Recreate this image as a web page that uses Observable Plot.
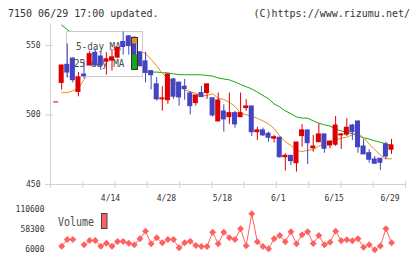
<!DOCTYPE html>
<html>
<head>
<meta charset="utf-8">
<script src="https://cdn.jsdelivr.net/npm/d3@7"></script>
<script src="https://cdn.jsdelivr.net/npm/@observablehq/plot@0.6"></script>
<style>
  html, body { margin: 0; padding: 0; background: #fff; }
  #chart { position: relative; width: 420px; height: 259px; overflow: hidden; }
  #chart svg { position: absolute; left: 0; top: 0; background: transparent; }
</style>
</head>
<body>
<div id="chart"></div>
<script>
// Daily prices for code 7150, 2020-03-31 .. 2020-06-29
const dates = ["3/31",
  "4/1","4/2","4/3","4/6","4/7","4/8","4/9","4/10","4/13","4/14","4/15","4/16","4/17","4/20","4/21","4/22","4/23","4/24","4/27","4/28","4/30",
  "5/1","5/7","5/8","5/11","5/12","5/13","5/14","5/15","5/18","5/19","5/20","5/21","5/22","5/25","5/26","5/27","5/28","5/29",
  "6/1","6/2","6/3","6/4","6/5","6/8","6/9","6/10","6/11","6/12","6/15","6/16","6/17","6/18","6/19","6/22","6/23","6/24","6/25","6/26","6/29"];

const open = [509, 523, 536, 540.5, 516.5, 529, 535.5, 544.7, 542, 538.3, 539, 541.2, 552.4, 556.5, 555.5, 545,
  538.5, 531.5, 522, 511.2, 510.6, 525.5, 523.2, 520.3, 515.5, 508.5, 515.7, 515.7, 512, 495.3, 502.5, 498.4,
  501.3, 498.4, 504.9, 506.1, 487.6, 488.9, 486.5, 482.9, 483.6, 469.6, 470.6, 465.3, 484.8, 488.9, 476.1, 480.4,
  486, 478, 478.6, 485.3, 485.8, 492.4, 495.3, 477.3, 472.5, 468, 468.5, 478.8, 475];
const high = [509, 536, 551, 541, 530.5, 539, 545.5, 547.3, 545.5, 544.7, 547, 548.5, 559.6, 557, 556, 545.5,
  545, 532, 526.8, 520.3, 529.4, 526.3, 523.5, 525.5, 516.7, 514, 520.5, 522, 512, 515.7, 507.3, 515.7,
  502.5, 515.7, 511, 506.1, 491.2, 490.5, 487.6, 485.3, 484, 472.1, 470.6, 480.2, 493, 489, 485.3, 493.7,
  486, 481, 498.9, 486.5, 497.3, 493.2, 495.5, 482.2, 475, 470.1, 468.5, 480.4, 482.4];
const low = [509, 518, 526.5, 523, 513, 526, 535.5, 535, 532, 528.6, 531.5, 540.5, 543, 543, 532, 534.5,
  523, 518, 510, 502.7, 507.6, 511.2, 506.3, 510.6, 500, 506.3, 512.8, 511.2, 498.4, 495.3, 487.6, 493.2,
  490.5, 498, 502.5, 484.5, 481.7, 484.5, 480.4, 479.7, 469, 459.6, 463.7, 458.9, 476.8, 464.4, 473.2, 480.4,
  472.5, 475.7, 477.3, 475.2, 484.5, 481.7, 472.5, 471.6, 465.3, 464.9, 460.1, 467.8, 471.6];
const close = [509, 535.5, 530.5, 525, 527, 528, 543.7, 535.6, 535.4, 540, 541.4, 548.3, 548.8, 549.5, 532.5, 535,
  530.2, 528.6, 511.2, 511.9, 529.1, 513.1, 512.6, 518.6, 506.3, 514, 512.8, 522, 499.6, 510.4, 496.8, 501.3,
  493.2, 501.3, 506.1, 487.6, 488.9, 485.3, 483.6, 484, 469.6, 470.6, 466.8, 480.2, 488.9, 479.7, 477.3, 486,
  475.7, 480.9, 492.4, 486, 490.8, 487.6, 476.8, 471.6, 467.8, 464.9, 465.6, 470.1, 478.1];

// Moving averages (5-day, 25-day)
const ma5 = [null, 516, 516, 517.3, 519.1, 525.5, 530.8, 532, 534, 536.5, 539, 540, 543, 545.5, 546, 546,
  544.1, 539.9, 535.3, 529.9, 526, 523.4, 520.5, 518, 516.7, 515.5, 513.7, 514, 515.3, 511.9, 511.2, 509.1,
  506.1, 501.1, 500.2, 499, 497.5, 495.7, 493.6, 490.3, 484.9, 480.7, 478.1, 474.5, 473.7, 474.5, 475.2, 477.6,
  479.3, 480.6, 482, 483.3, 484, 485.8, 487.1, 483.5, 479.1, 475.2, 471.1, 468.5, 468.5];
const ma25 = [null, 564.5, 561.5, 558, 555.5, 553, 550.5, 548.5, 546.5, 544.5, 542.5, 540.5, 538.5, 536.5, 534.5, 532.5,
  530.8, 530.8, 530.8, 530.4, 530.2, 529.5, 528.9, 528.9, 528.9, 528.9, 528.8, 528.4, 527.9, 526.6, 525.8, 525.2,
  523.7, 521.9, 520.3, 518.7, 516.4, 514, 511.7, 507.9, 505.8, 502.9, 500.9, 498.6, 497.7, 497.7, 495.7, 494.1,
  492.8, 492.1, 489.9, 488.5, 487.6, 486.5, 484.9, 483.5, 482.7, 481.4, 480.4, 479.1, 478.1];

// Traded volume (null = no value)
const volume = [null, 14600, 32200, 32200, null, 18300, 29500, 29500, 14600, 22500, 14600, 26900, 26900, 22500, 18300, 34000,
  53900, 20900, 36600, 23500, 32200, 32200, 10500, 23500, 27700, 16500, 13900, 13900, 51200, 20900, 51200, 36600,
  32200, 60100, 15700, 99400, 26100, 13900, 7800, 34000, 42600, 26100, 52300, 20900, 44700, 52300, 21700, 42600,
  18300, 25100, 53900, 29000, 31400, 29000, 34000, 12000, 18300, 5200, 15200, 60100, 23500];

// Axis labels
const priceTicks = [450, 500, 550];
const dateTicks = ["4/14", "4/28", "5/18", "6/1", "6/15", "6/29"];
const volumeTicks = [6000, 58300, 110600];
const titleText = "7150 06/29 17:00 updated.";
const creditText = "(C)https://www.rizumu.net/";
const legendLabels = ["5-day MA", "25-day MA"];

const rows = dates.map((date, i) => ({
  i, date, open: open[i], high: high[i], low: low[i], close: close[i],
  ma5: ma5[i], ma25: ma25[i], volume: volume[i]
}));

const FONT = "DejaVu Sans Mono, monospace";
const RED = "#dd0000", BLUE = "#4343c3", ORANGE = "#f08c14", GREEN = "#14a814";
const VOL = "#ff6060", AXIS = "#d2d2d2", TEXT = "#333";
const candleColor = d => (d.close >= d.open ? RED : BLUE);

const xDomain = [-1, 62.5];
const xRange = [50, 405];
const xTicks = d3.range(12).map(k => xDomain[0] + k * (xDomain[1] - xDomain[0]) / 11);

// Narrow label: tall glyphs squeezed to a fixed advance per character
function narrowText(g, x, y, str, size, advance) {
  return g.append("text").attr("x", x).attr("y", y).attr("font-size", size)
    .attr("textLength", str.length * advance).attr("lengthAdjust", "spacingAndGlyphs").text(str);
}

// Legend panel sits under the candles but above the average lines
function legendPanel() {
  const g = d3.create("svg:g").attr("font-family", FONT).attr("fill", "#4a4a4a").attr("text-anchor", "start");
  g.append("rect").attr("x", 66.5).attr("y", 31.5).attr("width", 76).attr("height", 45)
    .attr("fill", "white").attr("stroke", "#cccccc");
  narrowText(g, 76, 49.5, legendLabels[0], 11, 5.6);
  narrowText(g, 74, 66.5, legendLabels[1], 11, 5.6);
  return g.node();
}
function legendSwatches() {
  const g = d3.create("svg:g");
  g.append("rect").attr("x", 131.5).attr("y", 37.5).attr("width", 6).attr("height", 6).attr("fill", ORANGE);
  g.append("rect").attr("x", 131.5).attr("y", 54.5).attr("width", 6).attr("height", 15).attr("fill", GREEN);
  g.append("rect").attr("x", 131.5).attr("y", 37.5).attr("width", 6).attr("height", 32)
    .attr("fill", "none").attr("stroke", "#333");
  return g.node();
}
function volumeLegend() {
  const g = d3.create("svg:g").attr("font-family", FONT).attr("fill", "#4a4a4a").attr("text-anchor", "start");
  narrowText(g, 58, 226, "Volume", 12, 6);
  g.append("rect").attr("x", 101.5).attr("y", 213.5).attr("width", 5.5).attr("height", 15)
    .attr("fill", VOL).attr("stroke", "#444");
  return g.node();
}

const textStyle = { fontFamily: FONT, fill: TEXT };

const price = Plot.plot({
  width: 420, height: 259,
  marginLeft: 50, marginRight: 15, marginTop: 24, marginBottom: 75,
  style: { background: "transparent", overflow: "visible", fontFamily: FONT },
  x: { domain: xDomain, range: xRange, axis: null },
  y: { domain: [450, 565], axis: null },
  color: { type: "identity" },
  marks: [
    Plot.ruleY([450], { stroke: AXIS }),
    Plot.ruleX([xDomain[0]], { stroke: AXIS }),
    Plot.ruleX(xTicks, { y1: 450, y2: 450, insetTop: -3, insetBottom: -4, stroke: AXIS }),
    Plot.ruleY(priceTicks, { x1: xDomain[0], x2: xDomain[0], insetLeft: -5, insetRight: -3, stroke: AXIS }),
    Plot.text(priceTicks, { x: xDomain[0], y: d => d, text: d => String(d), dx: -10, textAnchor: "end", fontSize: 8, ...textStyle }),
    Plot.text(dateTicks, { x: d => dates.indexOf(d), y: 450, text: d => d, dx: -1.5, dy: 13.5, fontSize: 8, ...textStyle }),
    Plot.line(rows, { x: "i", y: "ma25", stroke: GREEN, strokeWidth: 1 }),
    Plot.line(rows, { x: "i", y: "ma5", stroke: ORANGE, strokeWidth: 1 }),
    legendPanel,
    Plot.ruleX(rows, { x: "i", y1: "low", y2: "high", stroke: candleColor, strokeWidth: 1 }),
    Plot.rect(rows, {
      x1: d => d.i - 0.45, x2: d => d.i + 0.45, y1: "open", y2: "close",
      fill: candleColor, insetTop: -0.5, insetBottom: -0.5
    }),
    legendSwatches
  ]
});

const diamond = d3.symbolDiamond2 || "diamond";
const vol = Plot.plot({
  width: 420, height: 259,
  marginLeft: 50, marginRight: 15, marginTop: 209, marginBottom: 10,
  style: { background: "transparent", overflow: "visible", fontFamily: FONT },
  x: { domain: xDomain, range: xRange, axis: null },
  y: { domain: [6000, 110600], range: [249, 209], axis: null },
  marks: [
    Plot.text(volumeTicks, { x: xDomain[0], y: d => d, text: d => String(d), dx: -6, textAnchor: "end", fontSize: 8, ...textStyle }),
    Plot.line(rows, { x: "i", y: "volume", stroke: VOL, strokeWidth: 1 }),
    Plot.dot(rows.filter(d => d.volume != null), { x: "i", y: "volume", symbol: diamond, r: 3.1, fill: VOL, stroke: "none" }),
    volumeLegend
  ]
});

// Header line
const head = d3.select(price);
head.append("text").attr("x", 8).attr("y", 16.5).attr("text-anchor", "start").attr("font-family", FONT)
  .attr("font-size", 10).attr("fill", TEXT).text(titleText);
head.append("text").attr("x", 410).attr("y", 16.5).attr("text-anchor", "end").attr("font-family", FONT)
  .attr("font-size", 10).attr("fill", TEXT).text(creditText);

const chart = document.getElementById("chart");
chart.append(price, vol);
</script>
</body>
</html>
